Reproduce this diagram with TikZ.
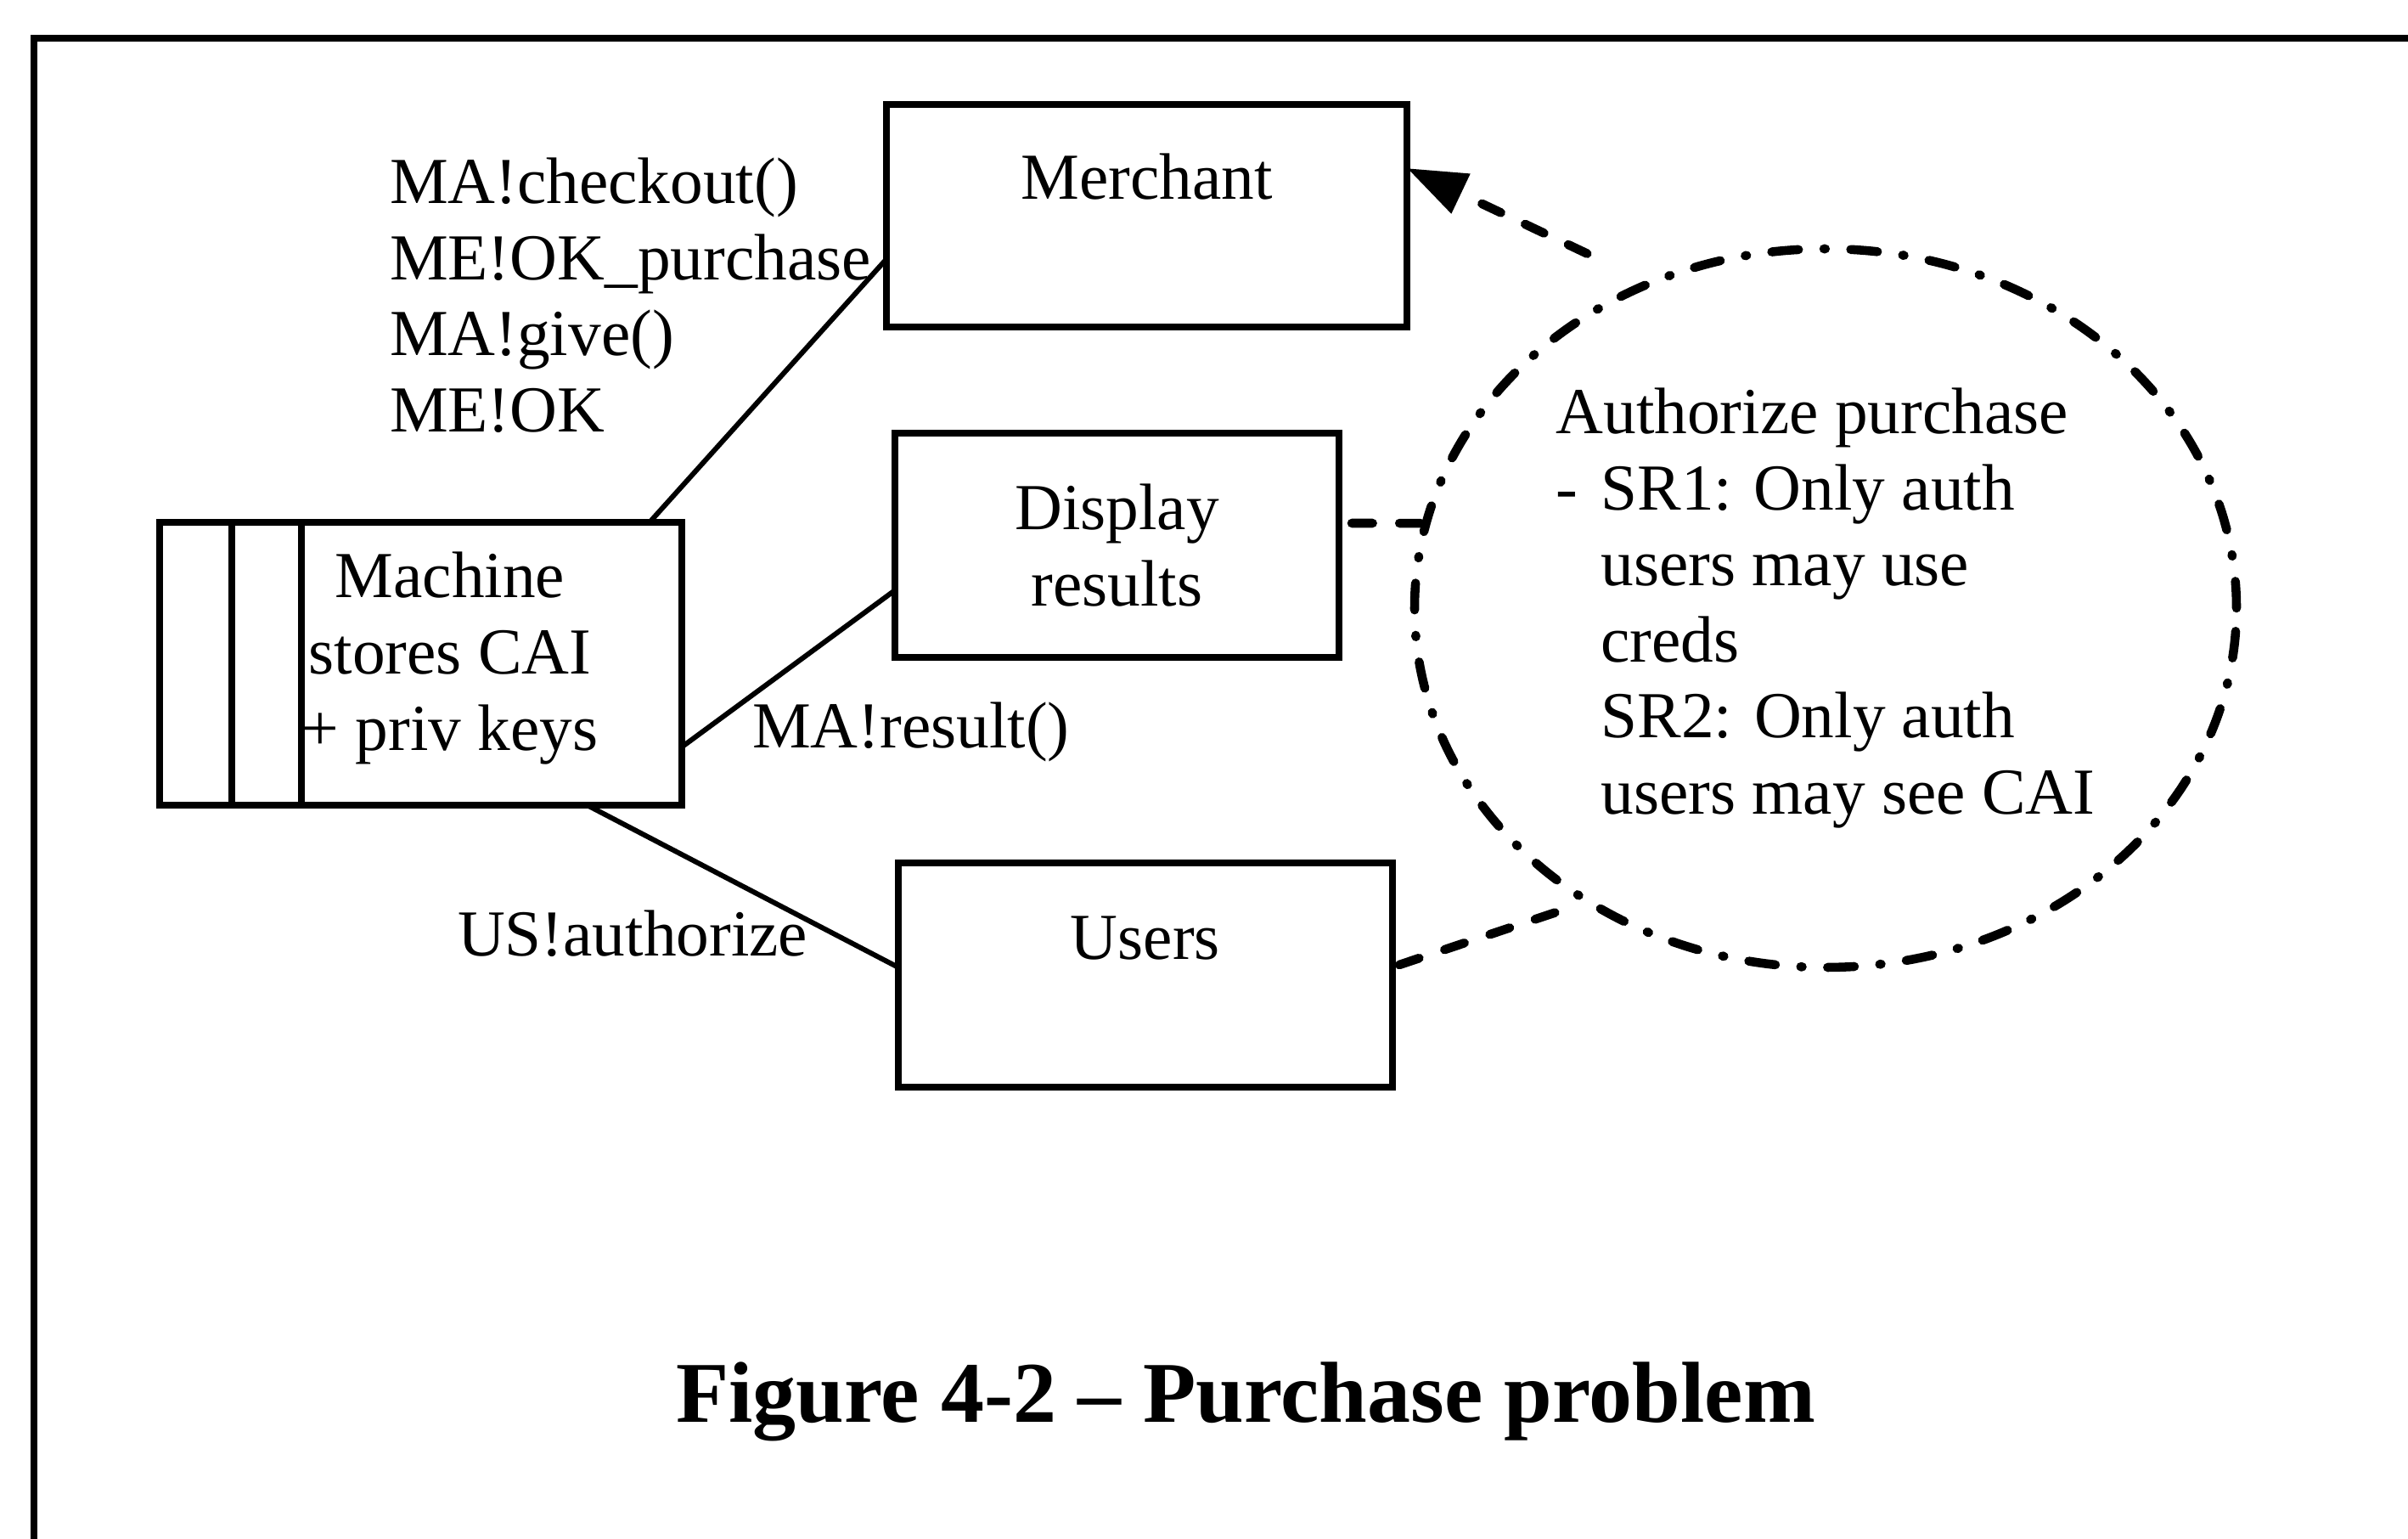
\documentclass[tikz,border=0pt]{standalone}
\usepackage{fontspec}
\setmainfont{Liberation Serif}
\usetikzlibrary{shapes,arrows.meta}

\begin{document}
\begin{tikzpicture}[line join=miter]
\tikzstyle{every node}=[inner sep=0pt,outer sep=0pt,font=\fontsize{22}{25.5}\selectfont]
\tikzstyle{edge}=[line width=2.3pt]
\tikzstyle{box}=[rectangle,draw,edge,align=center]
\tikzstyle{topbox}=[box,text height=1.12cm,text depth=1.5cm]
\tikzstyle{msg}=[align=left,anchor=base west]
\tikzstyle{link}=[line width=1.7pt]
\tikzstyle{dline}=[line width=3pt,line cap=round,dash pattern=on 7pt off 9pt]
\tikzstyle{dotdash}=[ellipse,draw,line width=3pt,line cap=round,dash pattern=on 9pt off 8.5pt on 0.5pt off 8.5pt]
\useasboundingbox (0,0) rectangle (28.36,18.12);
\draw[line width=2.4pt] (0.40,0) -- (0.40,17.67) -- (28.36,17.67);

\node[topbox,minimum width=6.13cm](merch) at (13.505,15.58) {Merchant};
\node[box,minimum width=5.23cm,minimum height=2.64cm](disp) at (13.155,11.70) {Display\\results};
\node[topbox,minimum width=5.82cm,text height=1.14cm](users) at (13.49,6.64) {Users};
\node[box,minimum width=6.15cm,minimum height=3.33cm](mach) at (4.955,10.305) {};
\node[align=center](machtxt) at (5.30,10.37) {Machine\\stores CAI\\+ priv keys};
\node[dotdash,minimum width=9.68cm,minimum height=8.46cm,align=left](auth) at (21.50,10.96) {Authorize purchase\\\makebox[0.53cm][l]{-}SR1: Only auth\\\hspace*{0.53cm}users may use\\\hspace*{0.53cm}creds\\\hspace*{0.53cm}SR2: Only auth\\\hspace*{0.53cm}users may see CAI};

\node[align=left,anchor=north west](mecalls) at (4.59,16.26) {MA!checkout()\\ME!OK\_purchase\\MA!give()\\ME!OK};
\node[msg](result) at (8.86,9.31) {MA!result()};
\node[msg](authz) at (5.39,6.86) {US!authorize};
\node[font=\bfseries\fontsize{29}{34}\selectfont,anchor=base](caption) at (14.67,1.37) {Figure 4-2 \textendash{} Purchase problem};

\draw[edge] ([xshift=0.85cm]mach.north west) -- ([xshift=0.85cm]mach.south west);
\draw[edge] ([xshift=1.67cm]mach.north west) -- ([xshift=1.67cm]mach.south west);
\draw[link] ([xshift=-0.38cm]mach.north east) -- ([yshift=-0.51cm]merch.west);
\draw[link] ([yshift=-0.98cm]mach.east) -- ([yshift=-0.53cm]disp.west);
\draw[link] ([xshift=1.96cm]mach.south) -- ([yshift=0.09cm]users.west);
\draw[dline] ([xshift=0.15cm,yshift=0.26cm]disp.east) -- (auth.168);
\draw[dline] ([xshift=0.08cm,yshift=0.12cm]users.east) -- ([yshift=-0.4cm]auth.225);
\draw[dline,-{Triangle[length=20pt,width=14pt]}] ([shift={(-0.35,0.53)}]auth.124) -- ([yshift=0.56cm]merch.east);
\end{tikzpicture}
\end{document}
